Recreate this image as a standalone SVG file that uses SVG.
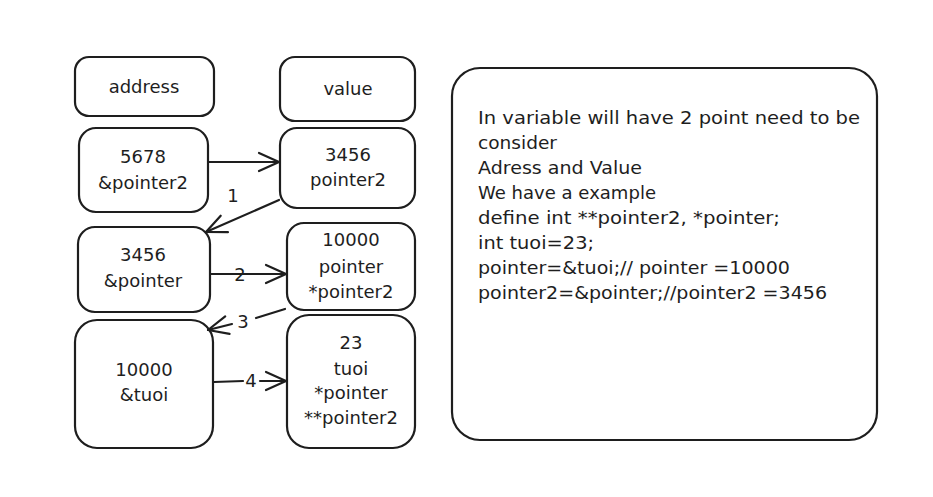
<svg xmlns="http://www.w3.org/2000/svg" width="933" height="497" viewBox="0 0 933 497">
<style>
.box{fill:#fff;stroke:#1e1e1e;stroke-width:2.2}
.t{font-family:"DejaVu Sans","Liberation Sans",Arial,sans-serif;font-size:18px;fill:#1e1e1e;text-anchor:middle}
.note{font-family:"DejaVu Sans","Liberation Sans",Arial,sans-serif;font-size:17px;fill:#1e1e1e}
.c{fill:none;stroke:#1e1e1e;stroke-width:2.2;stroke-linecap:round}
.lbl{font-family:"DejaVu Sans","Liberation Sans",Arial,sans-serif;font-size:18px;fill:#1e1e1e;text-anchor:middle}
</style>
<defs>
<marker id="ah" markerUnits="userSpaceOnUse" markerWidth="30" markerHeight="30" refX="22" refY="12" orient="auto">
<path d="M2,3 L22,12 L2,21" fill="none" stroke="#1e1e1e" stroke-width="2.2" stroke-linecap="round" stroke-linejoin="round"/>
</marker>
</defs>
<rect width="933" height="497" fill="#fff"/>
<g id="address">
<rect class="box" x="75" y="57" width="139" height="59" rx="14"/>
<text class="t" x="144" y="93">address</text>
</g>
<g id="value">
<rect class="box" x="280" y="57" width="135" height="64" rx="15"/>
<text class="t" x="348" y="95">value</text>
</g>
<g id="n5678">
<rect class="box" x="79" y="128" width="129" height="84" rx="17"/>
<text class="t" x="143" y="163">5678</text>
<text class="t" x="143" y="189">&amp;pointer2</text>
</g>
<g id="n3456v">
<rect class="box" x="280" y="128" width="135" height="80" rx="17"/>
<text class="t" x="348" y="161">3456</text>
<text class="t" x="348" y="186">pointer2</text>
</g>
<g id="n3456a">
<rect class="box" x="78" y="227" width="132" height="85" rx="17"/>
<text class="t" x="143" y="261">3456</text>
<text class="t" x="143" y="287">&amp;pointer</text>
</g>
<g id="n10000v">
<rect class="box" x="287" y="223" width="128" height="87" rx="17"/>
<text class="t" x="351" y="246">10000</text>
<text class="t" x="351" y="273">pointer</text>
<text class="t" x="351" y="298">*pointer2</text>
</g>
<g id="n10000a">
<rect class="box" x="75" y="320" width="138" height="128" rx="22"/>
<text class="t" x="144" y="376">10000</text>
<text class="t" x="144" y="401">&amp;tuoi</text>
</g>
<g id="n23">
<rect class="box" x="287" y="315" width="128" height="133" rx="22"/>
<text class="t" x="351" y="349">23</text>
<text class="t" x="351" y="375">tuoi</text>
<text class="t" x="351" y="399">*pointer</text>
<text class="t" x="351" y="424">**pointer2</text>
</g>
<g id="note">
<rect class="box" x="452" y="68" width="425" height="372" rx="28"/>
<text class="note" x="478" y="124" textLength="382" lengthAdjust="spacingAndGlyphs">In variable will have 2 point need to be</text>
<text class="note" x="478" y="149" textLength="79" lengthAdjust="spacingAndGlyphs">consider</text>
<text class="note" x="478" y="174" textLength="164" lengthAdjust="spacingAndGlyphs">Adress and Value</text>
<text class="note" x="478" y="199" textLength="178" lengthAdjust="spacingAndGlyphs">We have a example</text>
<text class="note" x="478" y="224" textLength="302" lengthAdjust="spacingAndGlyphs">define int **pointer2, *pointer;</text>
<text class="note" x="478" y="249" textLength="116" lengthAdjust="spacingAndGlyphs">int tuoi=23;</text>
<text class="note" x="478" y="274" textLength="312" lengthAdjust="spacingAndGlyphs">pointer=&amp;tuoi;// pointer =10000</text>
<text class="note" x="478" y="299" textLength="349" lengthAdjust="spacingAndGlyphs">pointer2=&amp;pointer;//pointer2 =3456</text>
</g>
<g id="connectors">
<line class="c" x1="209" y1="162" x2="279" y2="162" marker-end="url(#ah)"/>
<line class="c" x1="279" y1="200" x2="206" y2="232" marker-end="url(#ah)"/>
<text class="lbl" x="233" y="202">1</text>
<line class="c" x1="211" y1="274" x2="286" y2="274" marker-end="url(#ah)"/>
<text class="lbl" x="240" y="281">2</text>
<line class="c" x1="285" y1="309" x2="256" y2="318"/>
<line class="c" x1="232" y1="324" x2="208" y2="330" marker-end="url(#ah)"/>
<text class="lbl" x="243" y="328">3</text>
<line class="c" x1="214" y1="382" x2="243" y2="381"/>
<line class="c" x1="260" y1="381" x2="286" y2="381" marker-end="url(#ah)"/>
<text class="lbl" x="251" y="387">4</text>
</g>
</svg>
